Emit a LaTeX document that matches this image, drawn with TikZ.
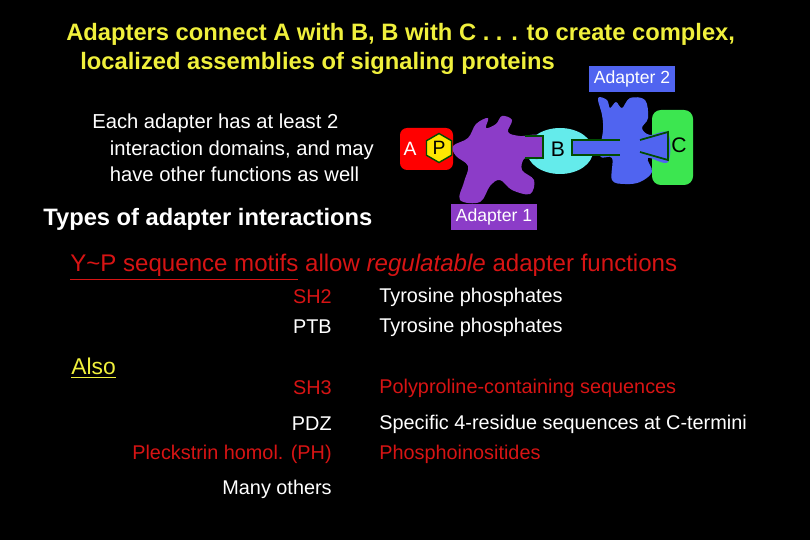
\documentclass[tikz,border=0pt]{standalone}
\usepackage{fontspec}
\setmainfont{Liberation Sans}
\usetikzlibrary{positioning,shapes.geometric}
\definecolor{titleyellow}{RGB}{240,240,60}
\definecolor{motifred}{RGB}{215,20,20}
\definecolor{adaptpurple}{RGB}{140,60,200}
\definecolor{adaptblue}{RGB}{80,100,240}
\definecolor{bcyan}{RGB}{100,235,235}
\definecolor{cgreen}{RGB}{60,230,80}
\tikzset{
  title/.style={text=titleyellow, font=\fontsize{13.5}{16}\selectfont\bfseries, anchor=west, inner sep=0pt},
  body/.style={text=white, font=\fontsize{11.5}{17}\selectfont, anchor=west, inner sep=0pt, align=left},
  domaintxt/.style={font=\fontsize{11.3}{15}\selectfont, anchor=east, inner sep=0pt},
  ligandtxt/.style={font=\fontsize{11.3}{15}\selectfont, anchor=west, inner sep=0pt},
  tag/.style={text=white, font=\fontsize{10}{12}\selectfont, inner sep=3pt, minimum height=0.5cm}
}
\begin{document}
\begin{tikzpicture}[x=0.02cm, y=-0.02cm]
  \fill[black] (0,0) rectangle (810,540);
  \useasboundingbox (0,0) rectangle (810,540);

  % title
  \node[title] (title1) at (66,34) {Adapters connect A with B, B with C . . . to create complex,};
  \node[title] (title2) at (80,63) {localized assemblies of signaling proteins};

  % left text
  \node[body] (note) at (92,148) {Each adapter has at least 2\\[-2pt]\hspace{10pt}interaction domains, and may\\[-2pt]\hspace{10pt}have other functions as well};
  \node[title, text=white] (types) at (43,219) {Types of adapter interactions};

  % proteins
  \fill[red, rounded corners=4pt] (400,128) rectangle (453,170);
  \node[text=white, font=\fontsize{11}{13}\selectfont, inner sep=0pt] (protA) at (410,149) {A};
  \fill[bcyan] (560,151) ellipse (33 and 23);
  \node[font=\fontsize{12}{14}\selectfont] (protB) at (558,149) {B};
  \fill[cgreen, rounded corners=5pt] (652,110) rectangle (693,185);
  \node[font=\fontsize{12}{14}\selectfont] (protC) at (679,145) {C};
  % adapter 1
  \fill[adaptpurple] plot[smooth cycle, tension=0.6] coordinates {
    (453,146) (468,138) (476,124) (488,118) (486,128) (496,124) (502,116)
    (512,120) (508,132) (520,136) (540,136) (540,158) (525,158) (522,170)
    (534,180) (530,194) (512,190) (500,180) (490,186) (480,202) (460,200)
    (464,182) (468,166) (456,156)};
  \draw[black!70!green, line width=1pt, fill=adaptpurple] (525,136) -- (543,136) -- (543,158) -- (525,158);
  \node[regular polygon, regular polygon sides=6, shape border rotate=90, fill=yellow!90!orange, draw=black!70!green, line width=0.8pt, minimum size=0.58cm, inner sep=0pt, font=\fontsize{11}{13}\selectfont] (phos) at (439,148) {P};
  % adapter 2
  \fill[adaptblue] plot[smooth cycle, tension=0.6] coordinates {
    (598,98) (607,100) (610,108) (616,102) (622,108) (630,98) (645,100)
    (648,118) (642,128) (650,135) (668,133) (668,162) (648,158) (652,172)
    (640,182) (625,184) (612,180) (612,158) (600,156) (603,130) (602,115)};
  \draw[black!70!green, line width=1pt, fill=adaptblue] (620,140) -- (572,140) -- (572,155) -- (620,155);
  \draw[black!70!green, line width=1pt, fill=adaptblue] (640,140) -- (668,132) -- (668,160) -- (640,152);
  \node[tag, fill=adaptblue] (adapter2) at (632,79) {Adapter 2};
  \node[tag, fill=adaptpurple] (adapter1) at (494,217) {Adapter 1};

  % motif heading
  \node[body, text=motifred, font=\fontsize{13.7}{16}\selectfont] (motifs) at (70,267)
    {\underline{Y\char`~P sequence motifs} allow \textit{regulatable} adapter functions};
  \node[body, text=titleyellow, font=\fontsize{13}{15}\selectfont] (also) at (71,368) {\underline{Also}};

  % domain table
  \node[domaintxt, text=motifred] (sh2) at (332,297) {SH2};
  \node[ligandtxt, text=white] (sh2lig) at (379,297) {Tyrosine phosphates};
  \node[domaintxt, text=white] (ptb) at (332,327) {PTB};
  \node[ligandtxt, text=white] (ptblig) at (379,327) {Tyrosine phosphates};
  \node[domaintxt, text=motifred] (sh3) at (332,388) {SH3};
  \node[ligandtxt, text=motifred] (sh3lig) at (379,388) {Polyproline-containing sequences};
  \node[domaintxt, text=white] (pdz) at (332,424) {PDZ};
  \node[ligandtxt, text=white] (pdzlig) at (379,424) {Specific 4-residue sequences at C-termini};
  \node[domaintxt, text=motifred] (ph) at (332,454) {Pleckstrin homol. (PH)};
  \node[ligandtxt, text=motifred] (phlig) at (379,454) {Phosphoinositides};
  \node[domaintxt, text=white] (others) at (332,489) {Many others};
\end{tikzpicture}
\end{document}
